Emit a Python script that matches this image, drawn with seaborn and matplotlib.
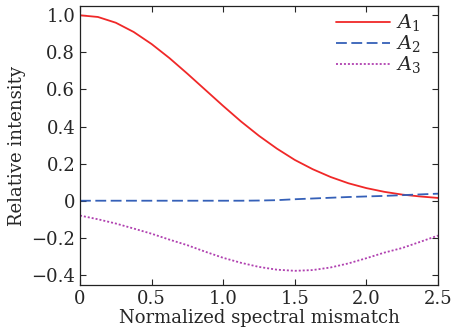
import matplotlib
matplotlib.use("Agg")
import matplotlib.pyplot as plt
import pandas as pd
import seaborn as sns

# values
mismatch = [0.0, 0.125, 0.25, 0.375, 0.5, 0.625, 0.75, 0.875, 1.0, 1.125, 1.25,
            1.375, 1.5, 1.625, 1.75, 1.875, 2.0, 2.125, 2.25, 2.375, 2.5]
a1 = [1.000, 0.991, 0.960, 0.910, 0.845, 0.769, 0.685, 0.598, 0.511, 0.427, 0.350,
      0.281, 0.220, 0.170, 0.128, 0.094, 0.068, 0.048, 0.033, 0.023, 0.015]
a2 = [0.000, 0.000, 0.000, 0.000, 0.000, 0.000, 0.000, 0.000, 0.000, 0.000, 0.001,
      0.003, 0.008, 0.012, 0.016, 0.020, 0.023, 0.026, 0.030, 0.034, 0.038]
a3 = [-0.080, -0.100, -0.123, -0.150, -0.178, -0.210, -0.240, -0.275, -0.308, -0.335, -0.357,
      -0.372, -0.378, -0.374, -0.360, -0.338, -0.310, -0.280, -0.255, -0.222, -0.188]
labels = ["$A_1$", "$A_2$", "$A_3$"]

df = pd.DataFrame({"x": mismatch, "A1": a1, "A2": a2, "A3": a3})

sns.set_style("ticks")
plt.rcParams["font.family"] = ["DejaVu Serif"]
plt.rcParams["mathtext.fontset"] = "dejavuserif"

fig = plt.figure(figsize=(4.52, 3.35), dpi=100)
ax = fig.add_axes([0.177, 0.149, 0.792, 0.833])

sns.lineplot(data=df, x="x", y="A1", ax=ax, color="#f02828", linewidth=1.3, label=labels[0])
sns.lineplot(data=df, x="x", y="A2", ax=ax, color="#3560b8", linewidth=1.3, label=labels[1])
sns.lineplot(data=df, x="x", y="A3", ax=ax, color="#b040b0", linewidth=1.3, label=labels[2])
ax.lines[1].set_dashes((6, 2.5))
ax.lines[2].set_dashes((1.1, 1.1))

ax.set_xlim(0, 2.5)
ax.set_ylim(-0.455, 1.05)
ax.set_xticks([0, 0.5, 1.0, 1.5, 2.0, 2.5])
ax.set_xticklabels(["0", "0.5", "1.0", "1.5", "2.0", "2.5"])
ax.set_yticks([-0.4, -0.2, 0, 0.2, 0.4, 0.6, 0.8, 1.0])
ax.set_yticklabels(["\u22120.4", "\u22120.2", "0", "0.2", "0.4", "0.6", "0.8", "1.0"])
ax.tick_params(direction="in", top=True, right=True, length=4, labelsize=13, width=0.8)
for s in ax.spines.values():
    s.set_linewidth(0.9)
    s.set_color("#222222")

ax.set_xlabel("Normalized spectral mismatch", fontsize=13, labelpad=1)
ax.set_ylabel("Relative intensity", fontsize=13, labelpad=4)

leg = ax.legend(loc="upper right", bbox_to_anchor=(0.975, 1.005), frameon=False,
                fontsize=14, handlelength=2.8, labelspacing=0.0, borderaxespad=0.0,
                handletextpad=0.3)
leg.get_lines()[1].set_dashes((6, 2.5))
leg.get_lines()[2].set_dashes((1.1, 1.1))

fig.savefig("out.png", dpi=100)
